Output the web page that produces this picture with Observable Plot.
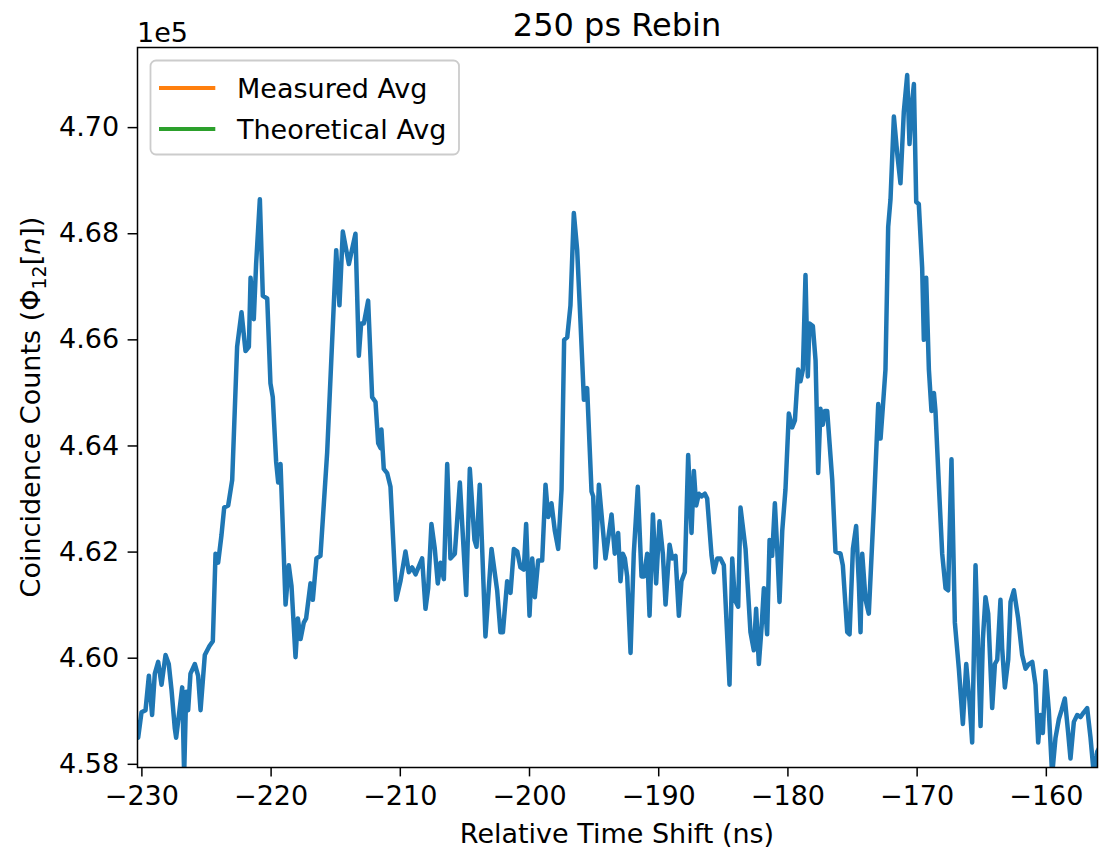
<!DOCTYPE html>
<html>
<head>
<meta charset="utf-8">
<script src="https://cdn.jsdelivr.net/npm/d3@7"></script>
<script src="https://cdn.jsdelivr.net/npm/@observablehq/plot@0.6"></script>
<style>
  body { margin: 0; background: #fff; }
  #chart { width: 1099px; height: 849px; }
</style>
</head>
<body>
<div id="chart"></div>
<script>
// Relative time shift of each rebinned sample (ns)
const timeShift = [
  -230.50,-230.29,-230.03,-229.72,-229.46,-229.21,-229.00,-228.74,-228.48,-228.17,
  -227.92,-227.71,-227.45,-227.35,-227.09,-226.88,-226.73,-226.57,-226.42,-226.24,
  -225.90,-225.65,-225.46,-225.13,-224.77,-224.51,-224.30,-224.10,-223.84,-223.63,
  -223.32,-223.01,-222.63,-222.29,-221.98,-221.72,-221.59,-221.34,-221.16,-220.87,
  -220.64,-220.30,-220.05,-219.87,-219.61,-219.45,-219.27,-218.88,-218.63,-218.42,
  -218.11,-217.93,-217.72,-217.47,-217.29,-216.95,-216.77,-216.49,-216.18,-215.66,
  -214.96,-214.71,-214.45,-213.98,-213.47,-213.21,-213.03,-212.82,-212.49,-212.18,
  -211.92,-211.71,-211.53,-211.46,-211.28,-211.02,-210.76,-210.32,-209.99,-209.60,
  -209.34,-209.08,-208.82,-208.31,-208.05,-207.84,-207.59,-207.33,-207.10,-206.89,
  -206.63,-206.37,-206.12,-205.78,-205.39,-204.90,-204.62,-204.26,-204.10,-203.85,
  -203.41,-202.94,-202.50,-202.25,-202.06,-201.73,-201.47,-201.21,-200.95,-200.70,
  -200.44,-200.26,-200.00,-199.79,-199.59,-199.33,-199.02,-198.76,-198.55,-198.30,
  -198.04,-197.78,-197.52,-197.32,-197.08,-196.83,-196.57,-196.31,-196.05,-195.79,
  -195.54,-195.20,-195.07,-194.89,-194.63,-194.12,-193.65,-193.40,-193.14,-192.96,
  -192.78,-192.62,-192.44,-192.18,-191.93,-191.62,-191.33,-191.15,-190.89,-190.71,
  -190.45,-190.20,-189.94,-189.68,-189.47,-189.16,-188.96,-188.70,-188.44,-188.24,
  -187.98,-187.72,-187.46,-187.28,-187.10,-186.89,-186.69,-186.43,-186.25,-185.91,
  -185.73,-185.47,-185.22,-184.96,-184.52,-184.31,-184.11,-183.85,-183.67,-183.28,
  -182.90,-182.64,-182.46,-182.25,-182.04,-181.86,-181.61,-181.42,-181.22,-181.01,
  -180.83,-180.65,-180.44,-180.19,-179.93,-179.67,-179.46,-179.21,-179.03,-178.84,
  -178.64,-178.46,-178.33,-178.07,-177.86,-177.66,-177.48,-177.30,-177.14,-176.96,
  -176.57,-176.32,-175.93,-175.75,-175.41,-175.23,-174.97,-174.72,-174.51,-174.38,
  -174.25,-173.99,-173.74,-173.35,-173.01,-172.83,-172.65,-172.45,-172.24,-172.06,
  -171.80,-171.54,-171.29,-171.03,-170.77,-170.59,-170.43,-170.25,-170.07,-169.87,
  -169.61,-169.48,-169.30,-169.09,-168.89,-168.70,-168.58,-168.32,-168.06,-167.80,
  -167.60,-167.34,-167.08,-166.77,-166.46,-166.20,-165.95,-165.74,-165.48,-165.09,
  -164.91,-164.71,-164.50,-164.19,-163.98,-163.80,-163.55,-163.42,-163.21,-162.95,
  -162.77,-162.51,-162.18,-161.87,-161.61,-161.35,-161.09,-160.84,-160.63,-160.45,
  -160.27,-160.06,-159.81,-159.55,-159.29,-159.03,-158.82,-158.57,-158.31,-158.13,
  -157.87,-157.61,-157.35,-157.10,-156.84,-156.58,-156.32,-156.06,-155.88
];

// Coincidence counts Φ12[n] for each sample
const counts = [
  458890,458500,458980,459020,459670,458930,459710,459930,459500,460060,
  459890,459410,458670,458500,459020,459450,457800,459370,459020,459710,
  459890,459670,459020,460060,460230,460320,461970,461800,462320,462840,
  462880,463360,465870,466520,465790,465870,467170,466390,467430,468650,
  466830,466780,465180,464920,463700,463310,463660,461010,461750,461360,
  460020,460750,460360,460670,460750,461410,461100,461880,461930,463880,
  467690,466650,468040,467430,468000,465700,466310,466310,466740,464920,
  464830,464050,463960,464310,463570,463490,463230,461100,461450,462010,
  461620,461710,461580,461880,460930,461320,462530,462060,461410,461800,
  461490,463660,461880,461970,463310,461190,463570,462230,462100,463270,
  460410,462060,461270,460490,460490,461450,461230,462060,462010,461710,
  461670,462530,460800,461880,461150,461840,461840,463270,462660,462920,
  462400,462060,463180,466000,466050,466650,468390,467690,466310,464870,
  465090,463140,463050,461710,463270,461880,462710,461970,462360,461450,
  461970,461880,461540,460100,461970,463230,461540,461540,461970,460800,
  462710,461410,462580,461970,461010,462140,461880,461930,460800,461450,
  461620,463830,462360,463530,462880,463100,463050,463100,463010,461930,
  461620,461880,461880,461750,459500,461880,461100,460970,462840,462060,
  460490,460150,460930,459890,460580,461320,460450,462230,461930,462920,
  462060,461060,462400,463180,464610,464350,464480,465440,465220,465440,
  467220,465310,466310,466260,465610,463490,464700,464400,464660,464660,
  463360,462010,461970,461750,460490,460450,462060,462490,461410,460490,
  461970,461100,460840,462840,464790,464140,464740,465440,468130,468650,
  470210,469510,468950,470300,470990,469690,470380,470820,468600,468560,
  467350,466000,467170,465440,464660,465000,464660,463270,461970,461320,
  461280,463750,460670,459800,458760,459890,459190,458410,461750,458720,
  460360,461150,460840,459060,459890,459970,461100,460190,459450,459970,
  461060,461280,460750,460060,459800,459890,459930,459500,458410,458930,
  458590,459760,459020,457800,458500,458850,459020,459240,458590,458110,
  458800,458930,458890,458980,459060,458500,457800,458240,458320
];

const xTicks = [-230, -220, -210, -200, -190, -180, -170, -160];
const yTicks = [458000, 460000, 462000, 464000, 466000, 468000, 470000];
const legendLabels = ["Measured Avg", "Theoretical Avg"];
const legendColors = ["#ff7f0e", "#2ca02c"];
const titleText = "250 ps Rebin";
const xLabel = "Relative Time Shift (ns)";

const data = timeShift.map((t, i) => ({t, c: counts[i]}));
const signed = d => (d < 0 ? "\u2212" + Math.abs(d) : String(d));

const W = 1099, H = 849;
const M = {left: 137, right: 2, top: 47, bottom: 82};

const chart = Plot.plot({
  width: W,
  height: H,
  marginLeft: M.left,
  marginRight: M.right,
  marginTop: M.top,
  marginBottom: M.bottom,
  style: {fontFamily: "DejaVu Sans", fontSize: "27px", color: "black", background: "white"},
  x: {domain: [-230.34, -156.04]},
  y: {domain: [457940, 471510]},
  marks: [
    Plot.line(data, {x: "t", y: "c", stroke: "#1f77b4", strokeWidth: 4.5, strokeLinejoin: "round", clip: true}),
    Plot.axisX({ticks: xTicks, tickFormat: signed, tickSize: 9.4, tickPadding: 9, strokeWidth: 1.5, label: null}),
    Plot.axisY({ticks: yTicks, tickFormat: d => (d / 1e5).toFixed(2), tickSize: 9.4, tickPadding: 9, strokeWidth: 1.5, label: null}),
    Plot.frame({stroke: "black", strokeWidth: 1.5})
  ]
});

document.getElementById("chart").appendChild(chart);

// Title, offset multiplier, axis labels and legend
const svg = d3.select(chart);
const cx = M.left + (W - M.left - M.right) / 2;
const cy = M.top + (H - M.top - M.bottom) / 2;

svg.append("text")
  .attr("x", cx).attr("y", 35.5)
  .attr("text-anchor", "middle")
  .style("font-size", "32px")
  .attr("fill", "black")
  .text(titleText);

svg.append("text")
  .attr("x", M.left).attr("y", 42)
  .attr("text-anchor", "start")
  .attr("fill", "black")
  .text("1e5");

svg.append("text")
  .attr("x", cx).attr("y", 843)
  .attr("text-anchor", "middle")
  .attr("fill", "black")
  .text(xLabel);

const yl = svg.append("text")
  .attr("transform", `translate(40,${cy}) rotate(-90)`)
  .attr("text-anchor", "middle")
  .attr("fill", "black");
yl.append("tspan").text("Coincidence Counts (\u03A6");
yl.append("tspan").attr("dy", 6).style("font-size", "19px").text("12");
yl.append("tspan").attr("dy", -6).text("[");
yl.append("tspan").style("font-style", "italic").text("n");
yl.append("tspan").text("])");

const lg = svg.append("g").attr("text-anchor", "start");
lg.append("rect")
  .attr("x", 150.5).attr("y", 60.5)
  .attr("width", 308.5).attr("height", 94)
  .attr("rx", 5.5)
  .attr("fill", "white").attr("fill-opacity", 0.8)
  .attr("stroke", "#cccccc").attr("stroke-width", 1.8);
legendLabels.forEach((label, i) => {
  const y = 88 + i * 41;
  lg.append("line")
    .attr("x1", 159).attr("x2", 215.3)
    .attr("y1", y).attr("y2", y)
    .attr("stroke", legendColors[i]).attr("stroke-width", 4);
  lg.append("text")
    .attr("x", 237).attr("y", y + 9.5)
    .attr("text-anchor", "start")
    .attr("fill", "black")
    .text(label);
});
</script>
</body>
</html>
